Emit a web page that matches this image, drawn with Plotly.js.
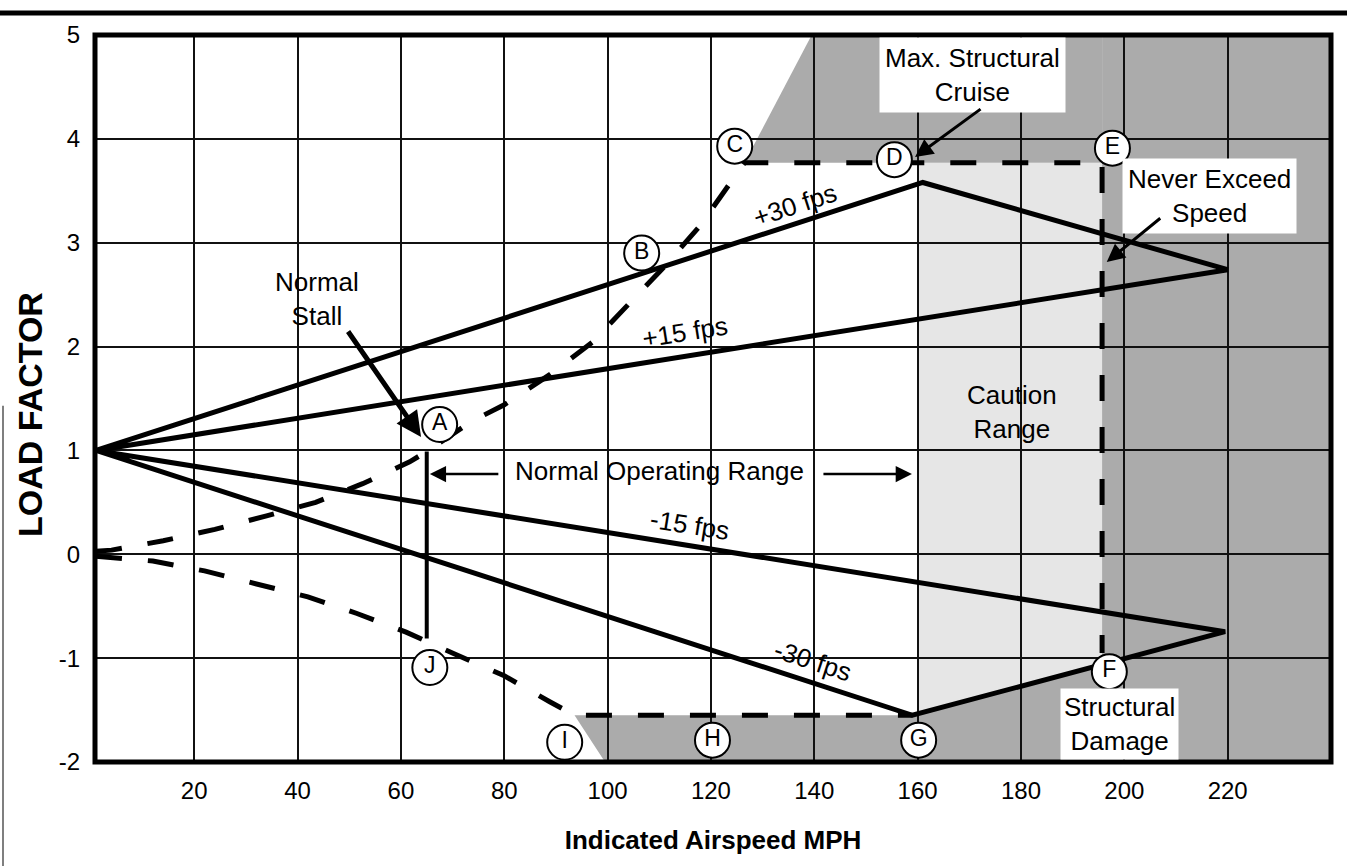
<!DOCTYPE html>
<html><head><meta charset="utf-8">
<script src="https://cdn.plot.ly/plotly-3.0.1.min.js"></script>
<style>html,body{margin:0;padding:0;background:#fff}#chart{width:1347px;height:866px}</style>
</head><body><div id="chart"></div>
<script>
// ---- Data (indicated airspeed mph, load factor) ----
// Gust load lines: +30 fps / +15 fps (upper), -15 fps / -30 fps (lower)
const gustPosX = [1, 161, 220, 1];
const gustPosY = [1, 3.58, 2.74, 1];
const gustNegX = [1, 159, 219.5, 1];
const gustNegY = [1, -1.55, -0.745, 1];
// Positive stall curve -> max structural cruise line (C-D-E) -> never exceed line (E-F)
const posEnvX = [1, 4, 14, 24, 34, 43.5, 52.6, 61.7, 65, 73.7, 80, 88.8, 97, 104, 111, 118, 123.8, 126.5, 195.7, 195.7];
const posEnvY = [0.03, 0.04, 0.13, 0.24, 0.37, 0.50, 0.68, 0.89, 0.99, 1.28, 1.44, 1.73, 2.04, 2.40, 2.77, 3.17, 3.58, 3.77, 3.77, -0.95];
// Negative stall curve -> negative limit line (I-H-G)
const negEnvX = [1, 12, 22, 32, 42, 51.5, 61, 70.4, 80, 88.8, 93.6, 159];
const negEnvY = [-0.02, -0.065, -0.16, -0.28, -0.41, -0.57, -0.75, -0.96, -1.17, -1.42, -1.55, -1.55];
// Normal stall speed line
const stallX = [65, 65];
const stallY = [0.99, -0.81];
// Lettered points
const ptLabels = ['A', 'B', 'C', 'D', 'E', 'F', 'G', 'H', 'I', 'J'];
const ptX = [67.5, 106.6, 124.6, 155.5, 197.7, 197.1, 160.2, 120.3, 91.7, 65.6];
const ptY = [1.25, 2.90, 3.93, 3.80, 3.91, -1.13, -1.79, -1.79, -1.81, -1.09];
// Shaded regions
const dangerTopX = [126.5, 195.7, 195.7, 139.5];
const dangerTopY = [3.77, 3.77, 5, 5];
const dangerRightX = [195.7, 240, 240, 195.7];
const dangerRightY = [-2, -2, 5, 5];
const dangerBottomX = [93.6, 159, 195.7, 195.7, 99.5];
const dangerBottomY = [-1.55, -1.55, -1.06, -2, -2];
const cautionX = [160, 195.7, 195.7, 160];
const cautionY = [3.77, 3.77, -1.06, -1.54];
// Ticks
const xTicks = [20, 40, 60, 80, 100, 120, 140, 160, 180, 200, 220];
const yTicks = [-2, -1, 0, 1, 2, 3, 4, 5];

const FONT = 'Liberation Sans, Arial, Helvetica, sans-serif';
const DARK = '#ababab';
const LIGHT = '#e6e6e6';

function polyPath(xs, ys) {
  return 'M' + xs.map((x, i) => x + ',' + ys[i]).join('L') + 'Z';
}
function region(xs, ys, color) {
  return {type: 'path', xref: 'x', yref: 'y', path: polyPath(xs, ys),
          fillcolor: color, line: {width: 0}, layer: 'below'};
}

const DASH = '26px,26px';
const traces = [
  {x: gustPosX, y: gustPosY, mode: 'lines', line: {color: '#000', width: 5}, hoverinfo: 'skip'},
  {x: gustNegX, y: gustNegY, mode: 'lines', line: {color: '#000', width: 5}, hoverinfo: 'skip'},
  {x: posEnvX, y: posEnvY, mode: 'lines', line: {color: '#000', width: 5, dash: DASH}, hoverinfo: 'skip'},
  {x: negEnvX, y: negEnvY, mode: 'lines', line: {color: '#000', width: 5, dash: DASH}, hoverinfo: 'skip'},
  {x: stallX, y: stallY, mode: 'lines', line: {color: '#000', width: 4}, hoverinfo: 'skip'},
  {x: ptX, y: ptY, text: ptLabels, mode: 'markers+text', textposition: 'middle center',
   textfont: {family: FONT, size: 23, color: '#000'},
   marker: {symbol: 'circle', size: 35, color: '#fff', line: {color: '#000', width: 2}},
   cliponaxis: false, hoverinfo: 'skip'}
];

function label(text, x, y, extra) {
  return Object.assign({text: text, x: x, y: y, xref: 'x', yref: 'y', showarrow: false,
    xanchor: 'center', yanchor: 'middle', font: {family: FONT, size: 26, color: '#000'}}, extra || {});
}
function arrow(x, y, ax, ay, w, size) {
  return {text: '', x: x, y: y, xref: 'x', yref: 'y', ax: ax, ay: ay, showarrow: true,
    arrowhead: 2, arrowsize: size, arrowwidth: w, arrowcolor: '#000', standoff: 0, startstandoff: 0};
}

const annotations = [
  label('Max. Structural<br>Cruise', 170.7, 4.615, {bgcolor: '#fff', borderpad: 5}),
  label('Never Exceed<br>Speed', 216.5, 3.45, {bgcolor: '#fff', borderpad: 5}),
  label('Structural<br>Damage', 199.0, -1.634, {bgcolor: '#fff', borderpad: 3}),
  label('Caution<br>Range', 178.3, 1.37),
  label('Normal<br>Stall', 43.8, 2.458),
  label('Normal Operating Range', 110.1, 0.80),
  label('+30 fps', 136.3, 3.363, {textangle: -18}),
  label('+15 fps', 115.0, 2.14, {textangle: -9}),
  label('-15 fps', 116.0, 0.282, {textangle: 9}),
  label('-30 fps', 139.8, -1.028, {textangle: 18}),
  arrow(63.9, 1.129, -74, -107, 5, 1),
  arrow(159.5, 3.825, 67, -49, 3, 1.2),
  arrow(196.6, 2.814, 55, -45, 3, 1.2),
  arrow(65.6, 0.773, 70, 0, 2.5, 1.3),
  arrow(158.9, 0.773, -90, 0, 2.5, 1.3),
  {text: '<b>LOAD FACTOR</b>', xref: 'paper', yref: 'paper', x: -65 / 1236, y: 347 / 727,
   xanchor: 'center', yanchor: 'middle', textangle: -90, showarrow: false,
   font: {family: FONT, size: 34, color: '#000'}}
];

const shapes = [
  region(cautionX, cautionY, LIGHT),
  region(dangerTopX, dangerTopY, DARK),
  region(dangerRightX, dangerRightY, DARK),
  region(dangerBottomX, dangerBottomY, DARK),
  {type: 'rect', xref: 'paper', yref: 'paper', x0: 0, x1: 1, y0: 0, y1: 1,
   line: {color: '#000', width: 5}, layer: 'above'},
  {type: 'line', xref: 'paper', yref: 'paper', x0: -95 / 1236, x1: 1252 / 1236,
   y0: 1 + 22 / 727, y1: 1 + 22 / 727, line: {color: '#000', width: 5}},
  {type: 'line', xref: 'paper', yref: 'paper', x0: -92 / 1236, x1: -92 / 1236,
   y0: 0.49, y1: -0.143, line: {color: '#555', width: 1.5}}
];

const layout = {
  width: 1347, height: 866,
  margin: {l: 95, r: 16, t: 35, b: 104, pad: 0},
  paper_bgcolor: '#fff', plot_bgcolor: '#fff',
  showlegend: false,
  xaxis: {range: [0.8, 240], tickmode: 'array', tickvals: xTicks, ticktext: xTicks.map(String),
    showgrid: true, gridcolor: '#111', gridwidth: 2, zeroline: false, showline: false,
    ticks: '', ticklabelstandoff: 12, automargin: false,
    tickfont: {family: FONT, size: 24, color: '#000'},
    title: {text: '<b>Indicated Airspeed MPH</b>', font: {family: FONT, size: 26, color: '#000'}, standoff: 27}},
  yaxis: {range: [-2, 5], tickmode: 'array', tickvals: yTicks, ticktext: yTicks.map(String),
    showgrid: true, gridcolor: '#111', gridwidth: 2, zeroline: false, showline: false,
    ticks: '', ticklabelstandoff: 14, automargin: false,
    tickfont: {family: FONT, size: 24, color: '#000'}},
  shapes: shapes,
  annotations: annotations
};

Plotly.newPlot('chart', traces, layout, {displayModeBar: false, staticPlot: true});
</script>
</body></html>
